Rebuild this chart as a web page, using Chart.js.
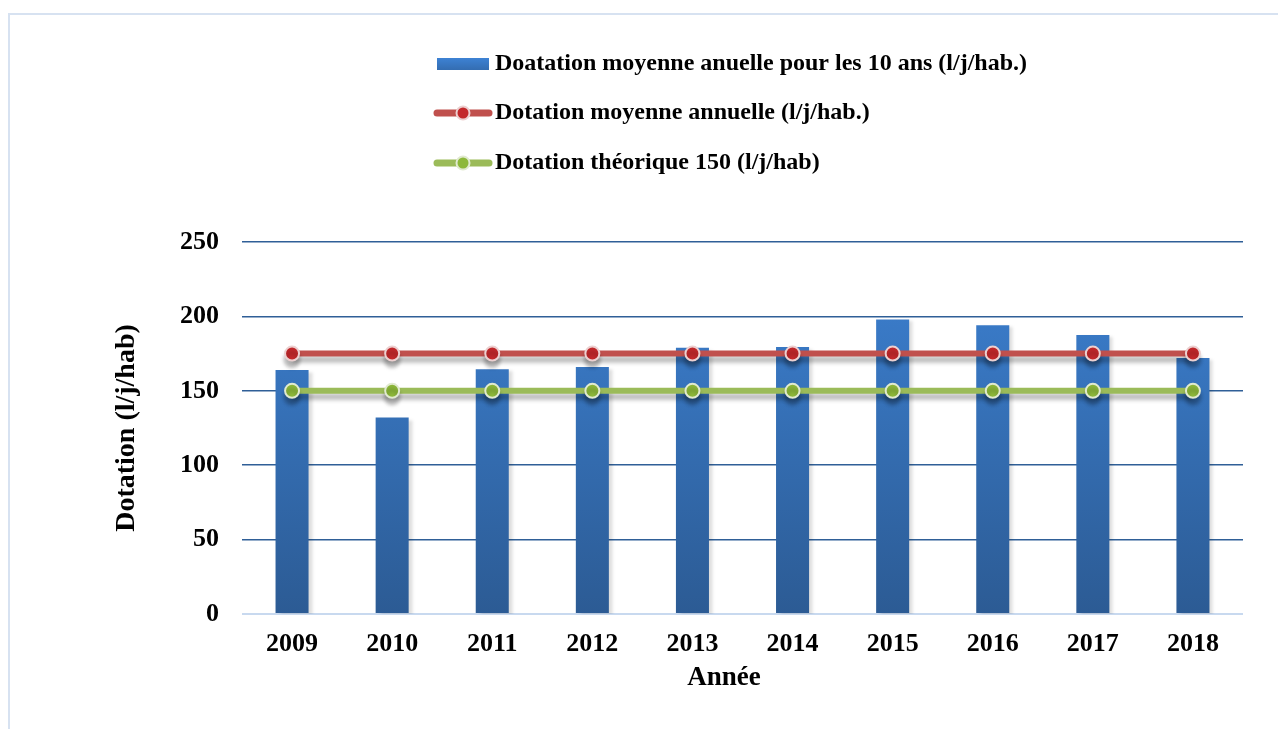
<!DOCTYPE html>
<html><head><meta charset="utf-8">
<script src="https://cdn.jsdelivr.net/npm/chart.js@4.4.1/dist/chart.umd.min.js"></script>
<style>html,body{margin:0;padding:0;background:#fff;overflow:hidden;} canvas{display:block;}</style>
</head><body>
<canvas id="c" width="1278" height="729"></canvas>
<script>
const years = ['2009','2010','2011','2012','2013','2014','2015','2016','2017','2018'];
const dotationDecennale = [164, 132, 164.5, 166, 179, 179.5, 198, 194, 187.5, 172];
const dotationMoyenne = [175, 175, 175, 175, 175, 175, 175, 175, 175, 175];
const dotationTheorique = [150, 150, 150, 150, 150, 150, 150, 150, 150, 150];
const yTicks = [0, 50, 100, 150, 200, 250];
const seriesLabels = [
  'Doatation moyenne anuelle pour les 10 ans (l/j/hab.)',
  'Dotation moyenne annuelle (l/j/hab.)',
  'Dotation théorique 150 (l/j/hab)'
];
const yTitle = 'Dotation (l/j/hab)';
const xTitle = 'Année';

const FONT = "'Liberation Serif', 'Times New Roman', serif";

function barGradient(ctx, top, bottom) {
  const g = ctx.createLinearGradient(0, top, 0, bottom);
  g.addColorStop(0, '#3d82d4');
  g.addColorStop(1, '#2c5b94');
  return g;
}

const framePlugin = {
  id: 'frame',
  beforeDraw(chart) {
    const ctx = chart.ctx;
    ctx.save();
    ctx.strokeStyle = '#d7e2f1';
    ctx.lineWidth = 2;
    ctx.beginPath();
    ctx.moveTo(9, 729);
    ctx.lineTo(9, 14);
    ctx.lineTo(1278, 14);
    ctx.stroke();
    ctx.restore();
  }
};

const shadowPlugin = {
  id: 'shadows',
  beforeDatasetDraw(chart, args) {
    const ctx = chart.ctx;
    ctx.save();
    if (args.meta.type === 'bar') {
      ctx.shadowColor = 'rgba(0,0,0,0.13)';
      ctx.shadowBlur = 3;
      ctx.shadowOffsetX = 4;
      ctx.shadowOffsetY = 2;
    } else {
      ctx.shadowColor = 'rgba(0,0,0,0.28)';
      ctx.shadowBlur = 4;
      ctx.shadowOffsetX = 0;
      ctx.shadowOffsetY = 6;
    }
  },
  afterDatasetDraw(chart) {
    chart.ctx.restore();
  }
};

const legendPlugin = {
  id: 'customLegend',
  afterDraw(chart) {
    const ctx = chart.ctx;
    ctx.save();
    const rows = [64, 113, 163];
    ctx.fillStyle = barGradient(ctx, 58, 80);
    ctx.fillRect(437, 58, 52, 12);
    const lineSw = [[1, '#c0504d', '#c3282b', '#ecd0d0'], [2, '#9bbb59', '#8db83a', '#e1ead0']];
    lineSw.forEach(([i, lc, pc, bc]) => {
      const y = rows[i];
      ctx.strokeStyle = lc;
      ctx.lineWidth = 7;
      ctx.lineCap = 'round';
      ctx.beginPath();
      ctx.moveTo(437, y);
      ctx.lineTo(489, y);
      ctx.stroke();
      ctx.beginPath();
      ctx.arc(463, y, 6.5, 0, Math.PI * 2);
      ctx.fillStyle = pc;
      ctx.fill();
      ctx.lineWidth = 2;
      ctx.strokeStyle = bc;
      ctx.stroke();
    });
    ctx.font = 'bold 24px ' + FONT;
    ctx.fillStyle = '#000';
    ctx.textBaseline = 'middle';
    ctx.textAlign = 'left';
    seriesLabels.forEach((t, i) => ctx.fillText(t, 495, rows[i]));
    // x axis title
    ctx.font = 'bold 27px ' + FONT;
    ctx.textAlign = 'center';
    ctx.fillText(xTitle, 724, 678);
    ctx.restore();
  }
};

new Chart(document.getElementById('c'), {
  type: 'bar',
  data: {
    labels: years,
    datasets: [
      {
        type: 'bar',
        label: seriesLabels[0],
        data: dotationDecennale,
        order: 3,
        backgroundColor: (c) => {
          const a = c.chart.chartArea;
          if (!a) return '#3572bd';
          return barGradient(c.chart.ctx, a.top, a.bottom);
        },
        borderWidth: 0,
        categoryPercentage: 1.0,
        barPercentage: 0.33
      },
      {
        type: 'line',
        label: seriesLabels[1],
        data: dotationMoyenne,
        order: 1,
        borderColor: '#c0504d',
        borderWidth: 6,
        pointRadius: 7,
        pointBackgroundColor: '#c3282b',
        pointBorderColor: '#ecd0d0',
        pointBorderWidth: 2,
        tension: 0
      },
      {
        type: 'line',
        label: seriesLabels[2],
        data: dotationTheorique,
        order: 2,
        borderColor: '#9bbb59',
        borderWidth: 6,
        pointRadius: 7,
        pointBackgroundColor: '#8db83a',
        pointBorderColor: '#e1ead0',
        pointBorderWidth: 2,
        tension: 0
      }
    ]
  },
  options: {
    responsive: false,
    animation: false,
    layout: { padding: { top: 242, left: 0, right: 35, bottom: 35 } },
    plugins: {
      legend: { display: false },
      tooltip: { enabled: false },
      title: { display: false }
    },
    scales: {
      x: {
        grid: { display: false },
        border: { display: false },
        ticks: {
          color: '#000',
          padding: 7,
          font: { family: FONT, size: 26, weight: 'bold' }
        },
        title: { display: false },
        afterFit(scale) { scale.height = 80; }
      },
      y: {
        min: 0,
        max: 250,
        afterBuildTicks(scale) { scale.ticks = yTicks.map(v => ({ value: v })); },
        grid: {
          drawTicks: false,
          color: (c) => c.tick && c.tick.value === 0 ? '#c8d9ef' : '#2f5f97',
          lineWidth: (c) => c.tick && c.tick.value === 0 ? 2 : 1.5
        },
        border: { display: false },
        ticks: {
          color: '#000',
          padding: 23,
          font: { family: FONT, size: 26, weight: 'bold' }
        },
        title: {
          display: true,
          text: yTitle,
          color: '#000',
          padding: { top: 110, bottom: 0 },
          font: { family: FONT, size: 28, weight: 'bold' }
        },
        afterFit(scale) { scale.width = 242; }
      }
    }
  },
  plugins: [framePlugin, shadowPlugin, legendPlugin]
});
</script>
</body></html>
